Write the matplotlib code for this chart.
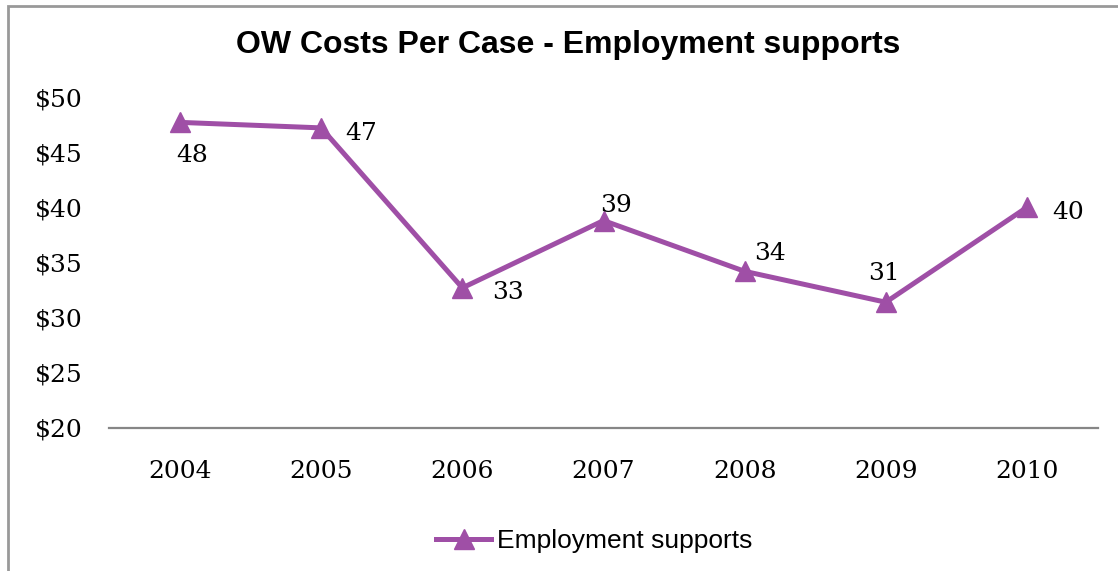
import matplotlib.pyplot as plt
from matplotlib.patches import Rectangle

# data
years = ['2004', '2005', '2006', '2007', '2008', '2009', '2010']
costs = [47.7, 47.2, 32.7, 38.8, 34.2, 31.4, 40.0]
# label offsets in points (dx, dy) for each point
label_offsets = [(9, -24), (29, -4), (33, -3), (9, 11), (18, 13), (-1, 21), (30, -4)]
y_ticks = [20, 25, 30, 35, 40, 45, 50]

purple = '#9F4FA6'
serif = 'DejaVu Serif'

fig = plt.figure(figsize=(11.18, 5.71), dpi=100)
fig.patch.set_facecolor('white')

# outer chart frame, running off the right and bottom edges
fig.patches.append(Rectangle((8 / 1118, -0.1), 1.2, 1.1 - 5.5 / 571, transform=fig.transFigure,
                             fill=False, edgecolor='#999999', linewidth=2, zorder=0))

ax = fig.add_axes([109.5 / 1118, 1 - 428 / 571, 988 / 1118, 331 / 571])
x = list(range(len(years)))
line, = ax.plot(x, costs, color=purple, linewidth=3.6, marker='^', markersize=14,
                label='Employment supports', zorder=3, clip_on=False)

for xi, v, (dx, dy) in zip(x, costs, label_offsets):
    ax.annotate(f'{v:.0f}', (xi, v), xytext=(dx, dy), textcoords='offset points',
                ha='center', va='center', fontsize=18, family=serif, color='black')

ax.set_xlim(-0.5, len(years) - 0.5)
ax.set_ylim(20, 50)
ax.set_xticks(x)
ax.set_xticklabels(years, family=serif, fontsize=18)
ax.set_yticks(y_ticks)
ax.set_yticklabels([f'${t}' for t in y_ticks], family=serif, fontsize=18)
ax.tick_params(axis='x', length=0, pad=23)
ax.tick_params(axis='y', length=0, pad=19)

for side in ['top', 'right', 'left']:
    ax.spines[side].set_visible(False)
ax.spines['bottom'].set_color('#868686')
ax.spines['bottom'].set_linewidth(1.6)

fig.text(568 / 1118, 1 - 45 / 571, 'OW Costs Per Case - Employment supports',
         ha='center', va='center', fontsize=23, fontweight='bold', family='Liberation Sans')

fig.legend(handles=[line], loc='center', bbox_to_anchor=(594 / 1118, 1 - 541 / 571),
           frameon=False, prop={'family': 'Liberation Sans', 'size': 19},
           handlelength=2.1, handletextpad=0.2, markerscale=1.0)

fig.savefig('out.png', dpi=100, facecolor='white')
